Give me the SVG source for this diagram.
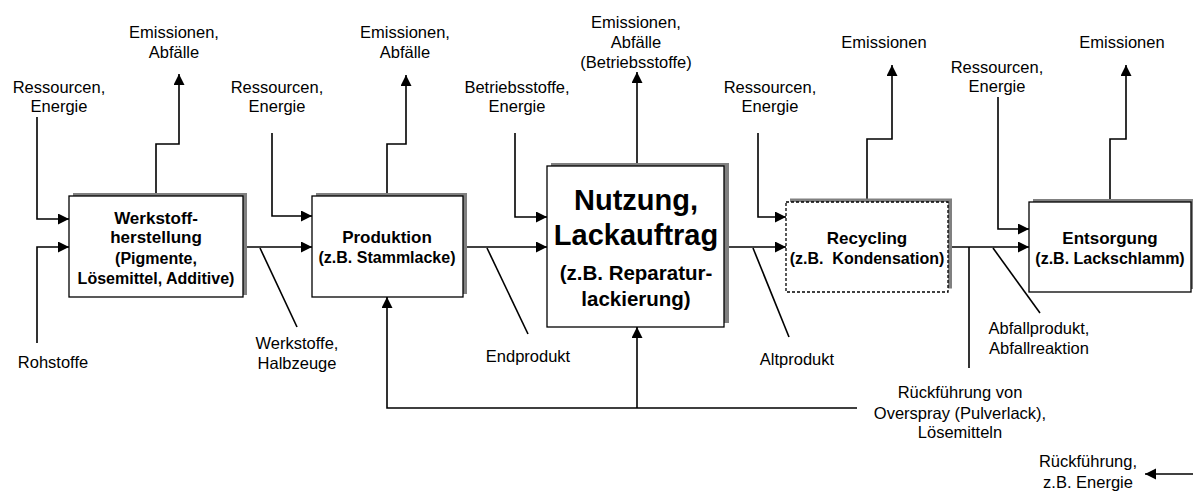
<svg xmlns="http://www.w3.org/2000/svg" width="1193" height="497" viewBox="0 0 1193 497">
<style>
text{font-family:"Liberation Sans",Arial,sans-serif;fill:#000;text-anchor:middle}
.l{font-size:16.5px}
.t{font-size:17px;font-weight:bold}
.s{font-size:16px;font-weight:bold}
.big{font-size:29px;font-weight:bold}
.mid{font-size:20.5px;font-weight:bold}
.box{fill:#fff;stroke:#000;stroke-width:1.3}
.dash{stroke-dasharray:3 2}
.sh{fill:#808080}
.c{fill:none;stroke:#000;stroke-width:1.6}
.a{marker-end:url(#ah)}
</style>
<defs>
<marker id="ah" markerUnits="userSpaceOnUse" markerWidth="12" markerHeight="12" refX="11" refY="5.5" orient="auto">
<path d="M0,0 L11,5.5 L0,11 z" fill="#000"/>
</marker>
</defs>
<rect width="1193" height="497" fill="#fff"/>
<g id="connectors">
<path class="c a" d="M37,117 V219 H69"/>
<path class="c a" d="M37,343 V247 H69"/>
<path class="c a" d="M156,196 V144 H179 V74"/>
<path class="c a" d="M243,247 H312"/>
<path class="c" d="M260,248 L297,327"/>
<path class="c a" d="M272,133 V216 H312"/>
<path class="c a" d="M387,196 V144 H406 V75"/>
<path class="c a" d="M463,247 H547"/>
<path class="c" d="M487,248 L528,334"/>
<path class="c a" d="M857,408 H387 V297"/>
<path class="c a" d="M637,408 V327"/>
<path class="c a" d="M515,133 V217 H547"/>
<path class="c a" d="M637,166 V72"/>
<path class="c a" d="M724,247 H786"/>
<path class="c" d="M753,248 L789,337"/>
<path class="c a" d="M758,133 V217 H786"/>
<path class="c a" d="M867,202 V139 H892 V65"/>
<path class="c a" d="M948,247 H1029"/>
<path class="c" d="M969,247 V368"/>
<path class="c" d="M993,248 L1040,313"/>
<path class="c a" d="M998,97 V229 H1029"/>
<path class="c a" d="M1110,202 V139 H1126 V65"/>
<path class="c" d="M1191,247 H1193"/>
<path class="c a" d="M1193,474 H1145"/>
</g>
<g id="werkstoff">
<rect class="sh" x="73" y="193" width="174" height="102"/>
<rect class="box" x="69" y="196" width="174" height="101"/>
<text class="t" x="156" y="224">Werkstoff-</text>
<text class="t" x="156" y="243">herstellung</text>
<text class="s" x="156" y="264">(Pigmente,</text>
<text class="s" x="156" y="284">Lösemittel, Additive)</text>
</g>
<g id="produktion">
<rect class="sh" x="316" y="193" width="151" height="101"/>
<rect class="box" x="312" y="196" width="151" height="101"/>
<text class="t" x="387" y="243">Produktion</text>
<text class="s" x="387" y="263">(z.B. Stammlacke)</text>
</g>
<g id="nutzung">
<rect class="sh" x="551" y="163" width="178" height="160"/>
<rect class="box" x="547" y="166" width="177" height="161"/>
<text class="big" x="636" y="210">Nutzung,</text>
<text class="big" x="636" y="245">Lackauftrag</text>
<text class="mid" x="636" y="280">(z.B. Reparatur-</text>
<text class="mid" x="636" y="306">lackierung)</text>
</g>
<g id="recycling">
<rect class="sh" x="790" y="198.5" width="162" height="90"/>
<rect class="box dash" x="786" y="202" width="162" height="90"/>
<text class="t" x="867" y="244">Recycling</text>
<text class="s" x="867" y="264" xml:space="preserve">(z.B.  Kondensation)</text>
</g>
<g id="entsorgung">
<rect class="sh" x="1033" y="199" width="162" height="90"/>
<rect class="box" x="1029" y="202" width="162" height="90"/>
<text class="t" x="1110" y="244">Entsorgung</text>
<text class="s" x="1110" y="264">(z.B. Lackschlamm)</text>
</g>
<g id="labels" class="l">
<text class="l" x="174" y="38">Emissionen,</text>
<text class="l" x="174" y="58">Abfälle</text>
<text class="l" x="59" y="93">Ressourcen,</text>
<text class="l" x="59" y="112">Energie</text>
<text class="l" x="53" y="368">Rohstoffe</text>
<text class="l" x="297" y="349">Werkstoffe,</text>
<text class="l" x="297" y="369">Halbzeuge</text>
<text class="l" x="277" y="93">Ressourcen,</text>
<text class="l" x="277" y="112">Energie</text>
<text class="l" x="405" y="38">Emissionen,</text>
<text class="l" x="405" y="58">Abfälle</text>
<text class="l" x="517" y="93">Betriebsstoffe,</text>
<text class="l" x="517" y="112">Energie</text>
<text class="l" x="636" y="28">Emissionen,</text>
<text class="l" x="636" y="48">Abfälle</text>
<text class="l" x="636" y="68">(Betriebsstoffe)</text>
<text class="l" x="528" y="362">Endprodukt</text>
<text class="l" x="770" y="93">Ressourcen,</text>
<text class="l" x="770" y="112">Energie</text>
<text class="l" x="884" y="48">Emissionen</text>
<text class="l" x="797" y="365">Altprodukt</text>
<text class="l" x="997" y="73">Ressourcen,</text>
<text class="l" x="997" y="92">Energie</text>
<text class="l" x="1122" y="48">Emissionen</text>
<text class="l" x="1039" y="334">Abfallprodukt,</text>
<text class="l" x="1039" y="354">Abfallreaktion</text>
<text class="l" x="960" y="398">Rückführung von</text>
<text class="l" x="960" y="419">Overspray (Pulverlack),</text>
<text class="l" x="960" y="438">Lösemitteln</text>
<text class="l" x="1088" y="467">Rückführung,</text>
<text class="l" x="1088" y="488">z.B. Energie</text>
</g>
</svg>
